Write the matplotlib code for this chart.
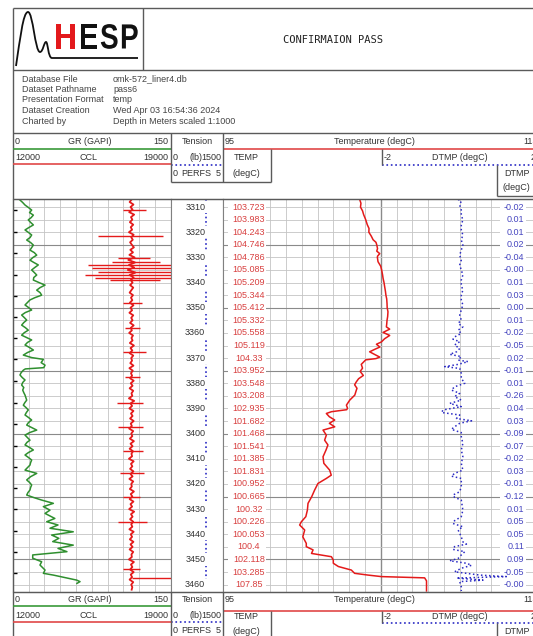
import numpy as np
import matplotlib
matplotlib.use("Agg")
import matplotlib.pyplot as plt
from matplotlib.path import Path
from matplotlib.patches import PathPatch
from matplotlib.textpath import TextPath
from matplotlib.font_manager import FontProperties
from matplotlib.transforms import Affine2D

plt.rcParams['font.family'] = ['Liberation Sans', 'DejaVu Sans']

# ---------------- data ----------------
DEPTH_TOP, DEPTH_BOT = 3306.8, 3462.8

depth_labels = [3310, 3320, 3330, 3340, 3350, 3360, 3370, 3380, 3390, 3400,
                3410, 3420, 3430, 3440, 3450, 3460]
value_depths = [3310, 3315, 3320, 3325, 3330, 3335, 3340, 3345, 3350, 3355,
                3360, 3365, 3370, 3375, 3380, 3385, 3390, 3395, 3400, 3405,
                3410, 3415, 3420, 3425, 3430, 3435, 3440, 3445, 3450, 3455, 3460]
temp_labels = ["103.723", "103.983", "104.243", "104.746", "104.786", "105.085",
               "105.209", "105.344", "105.412", "105.332", "105.558", "105.119",
               "104.33", "103.952", "103.548", "103.208", "102.935", "101.682",
               "101.468", "101.541", "101.385", "101.831", "100.952", "100.665",
               "100.32", "100.226", "100.053", "100.4", "102.118", "103.285", "107.85"]
dtmp_labels = ["-0.02", "0.01", "0.01", "0.02", "-0.04", "-0.00", "0.01", "0.03",
               "0.00", "0.01", "-0.02", "-0.05", "0.02", "-0.01", "0.01", "-0.26",
               "0.04", "0.03", "-0.09", "-0.07", "-0.02", "0.03", "-0.01", "-0.12",
               "0.01", "0.05", "0.05", "0.11", "0.09", "-0.05", "-0.00"]

gr_depth = [3307.2, 3308.2, 3309.2, 3310.2, 3311.2, 3312.2, 3313.2, 3314.2, 3315.1, 3316.1,
            3317.1, 3318.1, 3319.1, 3320.1, 3321.1, 3322.1, 3323.1, 3324.1, 3325.1, 3326.1,
            3327.1, 3328.1, 3329.1, 3330.1, 3331.1, 3332.0, 3333.0, 3334.0, 3335.0, 3336.0,
            3337.0, 3338.0, 3339.0, 3340.0, 3341.0, 3342.0, 3343.0, 3344.0, 3345.0, 3346.0,
            3346.9, 3347.9, 3348.9, 3349.9, 3350.9, 3351.9, 3352.9, 3353.9, 3354.9, 3355.9,
            3356.9, 3357.9, 3358.9, 3359.9, 3360.9, 3361.8, 3362.8, 3363.8, 3364.8, 3365.8,
            3366.8, 3367.8, 3368.8, 3369.8, 3370.5, 3371.8, 3372.8, 3373.8, 3374.3, 3374.8,
            3375.8, 3376.7, 3377.7, 3378.7, 3379.7, 3380.7, 3381.7, 3382.7, 3383.7, 3384.7,
            3385.7, 3386.7, 3387.7, 3388.7, 3389.6, 3390.6, 3391.6, 3392.6, 3393.6, 3394.6,
            3395.6, 3396.6, 3397.6, 3398.6, 3399.6, 3400.6, 3401.6, 3402.6, 3403.5, 3404.5,
            3405.5, 3406.5, 3407.5, 3408.5, 3409.5, 3410.5, 3411.5, 3412.5, 3413.5, 3414.5,
            3415.8, 3417.1, 3418.4, 3419.4, 3420.4, 3421.4, 3422.4, 3423.4, 3424.4, 3425.4,
            3426.4, 3427.7, 3429.0, 3430.4, 3431.7, 3433.7, 3435.0, 3436.3, 3437.6, 3439.0,
            3440.3, 3441.6, 3442.9, 3444.3, 3445.6, 3446.9, 3448.2, 3449.5, 3450.9, 3452.2,
            3454.2, 3455.5, 3456.2, 3458.2, 3458.8, 3459.5]
gr_value = [6.9, 9.5, 11.7, 15.0, 18.0, 16.0, 19.6, 17.5, 14.8, 17.0,
            19.6, 15.5, 11.7, 15.0, 18.0, 16.5, 13.3, 17.0, 19.6, 18.0,
            16.4, 20.5, 22.8, 19.0, 16.4, 20.0, 24.3, 21.0, 18.0, 20.5,
            22.8, 20.0, 19.6, 25.0, 30.7, 26.0, 22.8, 26.0, 27.5, 21.0,
            16.4, 14.0, 11.7, 15.0, 18.0, 12.0, 8.5, 11.0, 13.3, 10.5,
            8.5, 12.0, 14.8, 11.0, 8.5, 13.0, 18.0, 14.0, 11.7, 16.0,
            19.6, 14.0, 10.1, 18.0, 29.1, 27.0, 30.7, 29.5, 12.0, 10.1,
            8.0, 6.9, 9.0, 11.7, 9.5, 8.5, 10.5, 9.5, 10.5, 11.7,
            12.5, 13.3, 11.5, 10.1, 12.5, 14.8, 13.0, 11.7, 15.0, 18.0,
            15.0, 13.3, 18.0, 22.8, 16.0, 11.7, 14.0, 16.4, 13.5, 11.7,
            16.0, 19.6, 15.0, 11.7, 15.0, 18.0, 17.0, 16.4, 14.0, 11.7,
            22.8, 17.0, 13.3, 16.0, 18.0, 17.0, 16.4, 14.5, 13.3, 20.0,
            27.5, 38.6, 29.1, 35.4, 30.7, 40.0, 32.3, 43.0, 35.4, 57.5,
            37.0, 43.8, 38.0, 57.5, 43.0, 51.5, 19.0, 19.0, 27.5, 25.9,
            30.7, 29.1, 38.6, 60.8, 63.9, 61.0]

# CCL baseline sampled every metre from 3307 m
ccl_top, ccl_step = 3307.0, 1.0
ccl_base = [17270, 17180, 17350, 17220, 17310, 17160, 17380, 17240, 17300, 17190,
            17340, 17230, 17290, 17150, 17360, 17250, 17320, 17200, 17280, 17370,
            17210, 17330, 17170, 17400, 17120, 17420, 17150, 17380, 17100, 17440,
            17180, 17360, 17230, 17310, 17200, 17340, 17260, 17180, 17330, 17240,
            17300, 17190, 17350, 17220, 17290, 17170, 17340, 17250, 17310, 17200,
            17360, 17230, 17280, 17160, 17330, 17260, 17310, 17190, 17370, 17220,
            17300, 17180, 17340, 17250, 17290, 17210, 17350, 17170, 17320, 17240,
            17290, 17200, 17360, 17230, 17310, 17180, 17340, 17260, 17300, 17150,
            17380, 17220, 17290, 17170, 17350, 17240, 17310, 17200, 17360, 17230,
            17280, 17160, 17340, 17250, 17300, 17190, 17370, 17220, 17310, 17180,
            17330, 17260, 17290, 17150, 17360, 17240, 17300, 17200, 17350, 17220,
            17310, 17170, 17340, 17250, 17280, 17190, 17370, 17230, 17300, 17180,
            17350, 17220, 17290, 17160, 17380, 17240, 17310, 17200, 17340, 17250,
            17300, 17170, 17360, 17230, 17290, 17190, 17350, 17220, 17310, 17180,
            17340, 17260, 17280, 17150, 17370, 17240, 17300, 17200, 17360, 17230,
            17290, 17180, 17340, 17250, 17300, 17270]
ccl_spike_depth = [3311.2, 3321.4, 3330.3, 3331.9, 3333.0, 3334.2, 3335.8, 3337.0, 3338.2,
                   3339.0, 3348.3, 3358.2, 3367.5, 3377.4, 3387.7, 3397.3, 3406.8, 3415.5,
                   3425.1, 3435.0, 3453.9, 3457.5]
ccl_spike_left = [16886, 15779, 16665, 16399, 15336, 15513, 15779, 15203, 15646,
                  16310, 16886, 16975, 16886, 16975, 16620, 16665, 16886, 16753,
                  16886, 16665, 16886, 17270]
ccl_spike_right = [17905, 18658, 18082, 18525, 19500, 19500, 19500, 19500, 19500,
                   18525, 17730, 17639, 17905, 17639, 17770, 17770, 17770, 17816,
                   17639, 17949, 17639, 19500]

marker_depths = [3311.2, 3319.8, 3328.4, 3337.0, 3345.2, 3353.6, 3362.2, 3370.5, 3379.0,
                 3388.0, 3396.3, 3405.0, 3413.4, 3421.8, 3430.1, 3438.6, 3447.2, 3455.5]

tension_depth = [3306.8, 3462.5]
tension_value = [1004, 1004]

temp_depth = [3307.0, 3308.5, 3310.0, 3311.5, 3313.0, 3315.0, 3317.0, 3318.5, 3320.0, 3321.5,
              3323.0, 3324.0, 3325.0, 3326.5, 3327.5, 3328.5, 3329.5, 3330.0, 3331.7, 3333.5,
              3335.0, 3337.0, 3338.3, 3340.0, 3341.6, 3343.5, 3345.0, 3346.5, 3348.3, 3350.0,
              3351.6, 3353.5, 3355.0, 3356.5, 3357.6, 3358.5, 3359.8, 3361.0, 3362.3, 3363.6,
              3364.5, 3365.6, 3366.5, 3367.5, 3368.5, 3369.6, 3370.2, 3370.7, 3372.5, 3374.0,
              3375.3, 3376.9, 3378.2, 3379.5, 3380.6, 3382.0, 3382.7, 3384.7, 3386.7, 3388.7,
              3389.9, 3390.5, 3391.3, 3392.0, 3393.3, 3394.6, 3395.9, 3397.3, 3398.6, 3400.6,
              3402.6, 3404.5, 3406.5, 3409.2, 3411.8, 3414.5, 3416.5, 3417.8, 3419.8, 3422.4,
              3425.1, 3427.7, 3430.4, 3433.0, 3435.0, 3436.3, 3438.3, 3441.0, 3443.6, 3444.9,
              3446.2, 3447.6, 3448.9, 3450.2, 3451.5, 3452.8, 3454.2, 3455.5, 3456.2, 3456.8,
              3457.3, 3458.5, 3462.5]
temp_value = [103.67, 103.75, 103.72, 103.85, 103.92, 104.05, 104.15, 104.26, 104.25, 104.40,
              104.52, 104.70, 104.75, 104.80, 104.75, 104.94, 104.80, 104.79, 104.83, 105.00,
              105.06, 105.12, 105.15, 105.21, 105.25, 105.30, 105.33, 105.38, 105.40, 105.41,
              105.46, 105.44, 105.40, 105.38, 105.36, 105.57, 105.15, 105.57, 105.25, 105.04,
              104.73, 104.95, 104.63, 104.30, 104.60, 104.94, 104.70, 104.05, 103.77, 103.85,
              103.70, 103.90, 103.60, 103.45, 103.35, 103.50, 103.46, 103.36, 103.04, 102.83,
              102.90, 102.85, 101.88, 101.56, 101.75, 102.09, 101.75, 102.09, 101.35, 101.56,
              101.45, 101.66, 101.54, 101.35, 101.40, 101.77, 101.87, 101.56, 101.03, 100.82,
              100.63, 100.40, 100.36, 100.26, 99.98, 99.87, 100.19, 100.07, 100.29, 100.29,
              100.72, 100.62, 101.88, 102.00, 102.00, 102.32, 103.14, 103.35, 104.20, 105.04,
              107.78, 107.90, 107.90]

dtmp_depth = [3307.0, 3307.6, 3309.2, 3311.2, 3313.2, 3315.1, 3317.1, 3319.1, 3321.1, 3323.1,
              3325.1, 3327.1, 3329.1, 3331.1, 3333.0, 3335.0, 3337.0, 3339.0, 3341.0, 3343.0,
              3345.0, 3346.9, 3348.9, 3350.9, 3352.9, 3354.9, 3356.2, 3357.6, 3358.9, 3360.2,
              3361.6, 3362.5, 3363.5, 3364.8, 3366.2, 3367.5, 3368.5, 3369.4, 3370.8, 3371.4,
              3372.5, 3373.4, 3374.1, 3376.1, 3378.1, 3380.0, 3381.4, 3382.7, 3384.0, 3385.3,
              3386.7, 3388.0, 3389.3, 3390.6, 3391.6, 3392.6, 3394.0, 3394.9, 3395.9, 3397.3,
              3398.3, 3399.6, 3401.2, 3403.9, 3406.5, 3409.2, 3411.8, 3414.5, 3415.8, 3416.9,
              3417.8, 3421.1, 3423.1, 3424.4, 3425.3, 3426.4, 3430.4, 3433.0, 3434.6, 3435.7,
              3437.0, 3438.3, 3441.0, 3443.0, 3443.9, 3444.9, 3446.0, 3446.9, 3448.2, 3449.6,
              3450.5, 3451.5, 3452.3, 3453.5, 3454.9, 3455.5, 3456.2, 3456.8, 3457.4, 3458.2,
              3458.8, 3460.8, 3462.5]
dtmp_value = [-0.04, 0.04, 0.0, 0.04, 0.04, 0.08, 0.04, 0.04, 0.08, 0.04,
              0.08, 0.04, 0.0, 0.04, 0.0, 0.04, 0.08, 0.04, 0.04, 0.08,
              0.04, 0.04, 0.08, 0.04, 0.0, 0.04, -0.04, 0.08, -0.04, 0.04,
              -0.13, -0.17, 0.0, -0.13, 0.0, -0.08, -0.25, 0.04, -0.04, 0.21,
              -0.04, -0.38, 0.0, 0.04, 0.04, 0.13, -0.13, -0.21, 0.0, -0.13,
              0.04, -0.25, 0.04, -0.42, -0.46, 0.0, -0.08, 0.30, 0.0, -0.13,
              -0.21, 0.04, 0.04, 0.08, 0.04, 0.08, 0.04, 0.08, -0.13, -0.21,
              0.04, 0.04, 0.0, -0.17, -0.13, 0.04, 0.08, 0.04, -0.13, -0.17,
              0.08, -0.04, 0.04, 0.08, 0.17, -0.13, -0.17, 0.13, 0.04, -0.04,
              -0.25, 0.17, 0.30, 0.04, -0.13, 0.17, 0.51, 1.18, -0.08, 0.59,
              0.0, 0.04, 0.04]

info_keys = ["Database File", "Dataset Pathname", "Presentation Format",
             "Dataset Creation", "Charted by"]
info_vals = ["omk-572_liner4.db", "pass6", "temp", "Wed Apr 03 16:54:36 2024",
             "Depth in Meters scaled 1:1000"]

# ---------------- style ----------------
W, H = 533, 636
FRAME = '#5a5a5a'
GMINOR = '#c4c4c4'
GMAJOR = '#8a8a8a'
GREEN = '#2f8f2f'
RED = '#e41a1a'
LRED = '#d84040'
BLUE = '#2a2ac4'
TXT = '#333333'
FS = 6.5
Y0, Y1 = 199.0, 591.7

fig = plt.figure(figsize=(W / 100, H / 100), dpi=100)
fig.patch.set_facecolor('white')


def track(x0, x1):
    ax = fig.add_axes([x0 / W, 1 - Y1 / H, (x1 - x0) / W, (Y1 - Y0) / H])
    ax.set_ylim(DEPTH_BOT, DEPTH_TOP)
    ax.set_xticks([])
    ax.set_yticks([])
    for s in ax.spines.values():
        s.set_color('#808080')
        s.set_linewidth(0.8)
    return ax


def hgrid(ax):
    for d in range(3310, 3461, 5):
        major = d % 25 == 0
        ax.axhline(d, color=GMAJOR if major else GMINOR, lw=0.8 if major else 0.6, zorder=1)


# Track 1: GR + CCL
ax1 = track(12.7, 170.7)
ax1.set_xlim(0, 150)
for g in range(15, 150, 15):
    ax1.axvline(g, color=GMINOR, lw=0.6, zorder=1)
hgrid(ax1)
ax1.plot(gr_value, gr_depth, color=GREEN, lw=1.1, zorder=3)
ax1.hlines(marker_depths, 0, 3.8, color='black', lw=1.0, zorder=4)
ax1c = ax1.twiny()
ax1c.set_xlim(12000, 19000)
ax1c.set_xticks([])
ax1c.set_ylim(DEPTH_BOT, DEPTH_TOP)
for s in ax1c.spines.values():
    s.set_visible(False)
ccl_depth = ccl_top + ccl_step * np.arange(len(ccl_base))
ax1c.plot(ccl_base, ccl_depth, color=RED, lw=1.3, zorder=3)
ax1c.hlines(ccl_spike_depth, ccl_spike_left, ccl_spike_right, color=RED, lw=1.0, zorder=3)

# Depth / tension track
axd = track(170.7, 222.7)
axd.set_xlim(0, 1500)
axd.plot(tension_value, tension_depth, color=BLUE, ls=':', lw=1.2, zorder=2)
for d in depth_labels:
    axd.text(0.665, d, str(d), transform=axd.get_yaxis_transform(), ha='right', va='center',
             fontsize=FS, color=TXT, zorder=4,
             bbox=dict(facecolor='white', edgecolor='none', pad=1.2))

# Temperature track
axt = track(222.7, 538.7)
axt.set_xlim(95, 115)
for t in range(96, 115):
    axt.axvline(t, color=GMAJOR if t == 105 else GMINOR, lw=1.0 if t == 105 else 0.6, zorder=1)
hgrid(axt)
axt.axvspan(95.34, 97.74, color='white', zorder=2, lw=0)
axt.axvspan(112.55, 114.2, color='white', zorder=2, lw=0)
axt.plot(temp_value, temp_depth, color=RED, lw=1.1, zorder=3)
for d, s in zip(value_depths, temp_labels):
    axt.text(96.66, d, s, ha='center', va='center', fontsize=FS, color=LRED, zorder=4)

# DTMP overlay (right half of the temperature track)
axdt = fig.add_axes([380.7 / W, 1 - Y1 / H, 158 / W, (Y1 - Y0) / H])
axdt.set_xlim(-2, 2)
axdt.set_ylim(DEPTH_BOT, DEPTH_TOP)
axdt.axis('off')
axdt.patch.set_alpha(0)
axdt.plot(dtmp_value, dtmp_depth, color=BLUE, ls=':', lw=1.1, zorder=3)
for d, s in zip(value_depths, dtmp_labels):
    axdt.text(1.63, d, s, ha='right', va='center', fontsize=FS, color='#4646c0', zorder=4)

# ---------------- overlay: frame, header, footer ----------------
ov = fig.add_axes([0, 0, 1, 1])
ov.set_xlim(0, W)
ov.set_ylim(H, 0)
ov.axis('off')
ov.patch.set_visible(False)
ov.set_zorder(10)


def ln(xs, ys, c=FRAME, lw=1.0, ls='-'):
    ov.plot(xs, ys, color=c, lw=lw, ls=ls, solid_capstyle='butt')


def tx(x, y, s, ha='left', c=TXT, fs=FS, **kw):
    ov.text(x, y, s, ha=ha, va='center', color=c, fontsize=fs, **kw)


ln([12.7, 533], [8, 8])
ln([12.7, 12.7], [8, 636])
ln([142.7, 142.7], [8, 70])
ln([12.7, 533], [70, 70])
ln([12.7, 533], [132.5, 132.5])
ln([12.7, 533], [Y0, Y0])
ln([12.7, 533], [Y1, Y1])

# logo: pulse-shaped wave underlining the lettering
verts = [(16, 66), (20, 40), (23, 12), (28, 12), (33, 12), (35, 52), (40, 52),
         (43, 52), (44, 42), (46, 42), (48, 42), (48, 58), (52, 58), (138, 58)]
codes = [Path.MOVETO] + [Path.CURVE4] * 12 + [Path.LINETO]
ov.add_patch(PathPatch(Path(verts, codes), facecolor='none', edgecolor='#111111', lw=1.3))
logo_font = FontProperties(family='Liberation Sans', weight='bold')
for x, ch, col, sx in zip([54, 79.5, 100, 120], "HESP",
                          ['#e3191c', '#111111', '#111111', '#111111'],
                          [32, 28, 28, 28]):
    tp = TextPath((0, 0), ch, size=1, prop=logo_font)
    tr = Affine2D().scale(sx, -35).translate(x, 48.5)
    ov.add_patch(PathPatch(tr.transform_path(tp), facecolor=col, edgecolor='none'))

tx(333, 40, "CONFIRMAION PASS", ha='center', c='#222222', fs=7.5, family='DejaVu Sans Mono')

for i, (k, v) in enumerate(zip(info_keys, info_vals)):
    y = 79 + 10.5 * i
    tx(22, y, k, c='#444444')
    tx(113, y, v, c='#444444')


def header(r1, r2, r3, gline, cline, tline, dline, dr, bottom):
    # track 1
    tx(15, r1, "0"); tx(90, r1, "GR (GAPI)", ha='center'); tx(168, r1, "150", ha='right')
    ln([12.7, 170.7], [gline, gline], c='#3a9a3a', lw=1.2)
    tx(15, r2, "12000"); tx(88, r2, "CCL", ha='center'); tx(168, r2, "19000", ha='right')
    ln([12.7, 170.7], [cline, cline], c='#e04848', lw=1.2)
    # tension
    tx(197, r1, "Tension", ha='center')
    tx(173, r2, "0"); tx(196, r2, "(lb)", ha='center'); tx(221.5, r2, "1500", ha='right')
    ln([170.7, 222.7], [cline + 0.8, cline + 0.8], c=BLUE, lw=1.2, ls=':')
    tx(173, r3, "0"); tx(196, r3, "PERFS", ha='center'); tx(221, r3, "5", ha='right')
    # temperature
    tx(225, r1, "95"); tx(374, r1, "Temperature (degC)", ha='center'); tx(538, r1, "115", ha='right')
    ln([222.7, 533], [tline, tline], c='#e04848', lw=1.2)
    tx(246, dr[0], "TEMP", ha='center'); tx(246, dr[1], "(degC)", ha='center')
    # dtmp
    tx(383.5, dr[0], "-2"); tx(460, dr[0], "DTMP (degC)", ha='center'); tx(536, dr[0], "2", ha='right')
    ln([381.7, 533], [dline, dline], c=BLUE, lw=1.2, ls=':')
    tx(516.7, dr[1], "DTMP", ha='center')
    if bottom:
        ln([170.7, 170.7], [Y1, 636]); ln([222.7, 222.7], [Y1, 636])
        ln([270.7, 270.7], [tline, 636]); ln([381.7, 381.7], [tline, dline])
        ln([496.7, 496.7], [dline, 636])
    else:
        tx(516.7, 187.7, "(degC)", ha='center')
        ln([170.7, 170.7], [132.5, 181.7]); ln([222.7, 222.7], [132.5, 181.7])
        ln([170.7, 270.7], [181.7, 181.7])
        ln([270.7, 270.7], [tline, 181.7]); ln([381.7, 381.7], [tline, dline])
        ln([496.7, 496.7], [dline, 195.5]); ln([496.7, 533], [195.5, 195.5])


header(141.7, 157.5, 173.0, 149.0, 164.0, 149.0, 164.5, (157.5, 173.0), False)
header(599.5, 615.0, 630.5, 605.5, 621.5, 610.5, 623.0, (616.5, 631.0), True)

fig.savefig("out.png", dpi=100, facecolor='white')
